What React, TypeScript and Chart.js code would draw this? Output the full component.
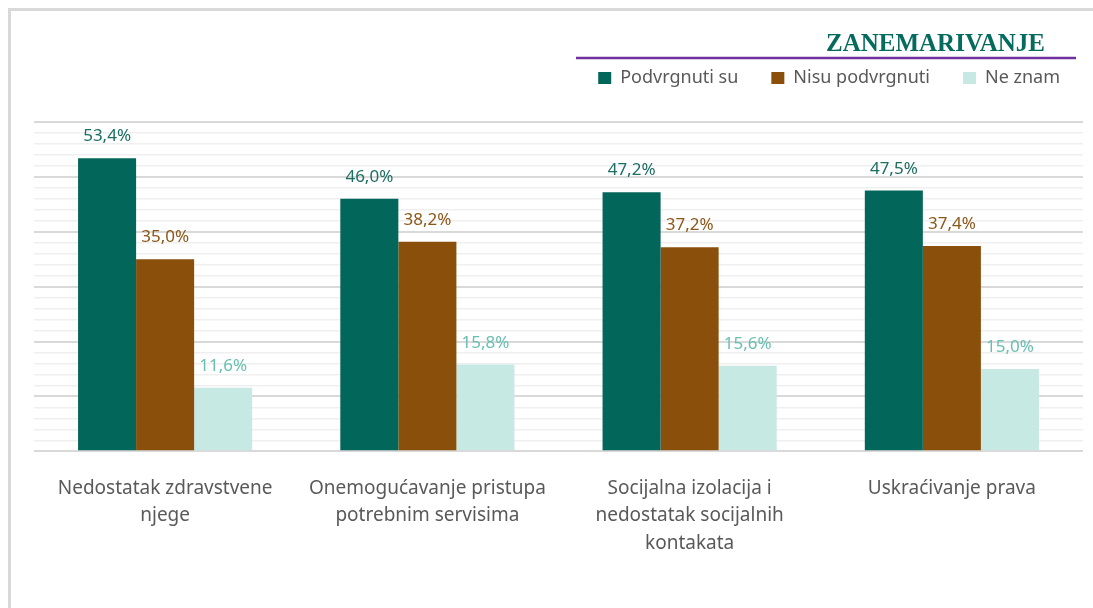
import React, { useEffect, useRef } from "react";
import { Chart, registerables } from "chart.js";

Chart.register(...registerables);

const categories: string[][] = [
  ["Nedostatak zdravstvene", "njege"],
  ["Onemogućavanje pristupa", "potrebnim servisima"],
  ["Socijalna izolacija i", "nedostatak socijalnih", "kontakata"],
  ["Uskraćivanje prava"],
];
const seriesNames = ["Podvrgnuti su", "Nisu podvrgnuti", "Ne znam"];
const podvrgnuti = [53.4, 46.0, 47.2, 47.5];
const nisuPodvrgnuti = [35.0, 38.2, 37.2, 37.4];
const neZnam = [11.6, 15.8, 15.6, 15.0];
const titleText = "ZANEMARIVANJE";

const barColors = ["#03665A", "#8B4F0C", "#C6E9E3"];
const labelColors = ["#1C6E63", "#8C5719", "#68BFB1"];
const FONT = "'Noto Sans', sans-serif";

const fmt = (v: number) => v.toFixed(1).replace(".", ",") + "%";

const headerPlugin = {
  id: "header",
  beforeInit(chart: any) {
    const legend = chart.legend;
    if (legend) {
      const orig = legend.fit;
      legend.fit = function () {
        orig.call(this);
        this.height += 25;
      };
    }
  },
  afterLayout(chart: any) {
    if (chart.legend) {
      chart.legend.right = chart.width;
    }
  },
  beforeDraw(chart: any) {
    const ctx = chart.ctx;
    ctx.save();
    ctx.fillStyle = "#D9D9D9";
    ctx.fillRect(0, 0, chart.width, 3);
    ctx.fillRect(0, 0, 3, chart.height);
    ctx.restore();
  },
  afterDraw(chart: any) {
    const ctx = chart.ctx;
    ctx.save();
    ctx.font = "bold 25px 'Liberation Serif', serif";
    ctx.fillStyle = "#046B5E";
    ctx.textAlign = "right";
    ctx.textBaseline = "alphabetic";
    ctx.fillText(titleText, 1037, 43);
    ctx.strokeStyle = "#7030A0";
    ctx.lineWidth = 2.5;
    ctx.beginPath();
    ctx.moveTo(568, 50);
    ctx.lineTo(1068, 50);
    ctx.stroke();
    ctx.restore();
  },
};

const valueLabelPlugin = {
  id: "valueLabels",
  afterDatasetsDraw(chart: any) {
    const ctx = chart.ctx;
    ctx.save();
    ctx.font = `17px ${FONT}`;
    ctx.textAlign = "center";
    ctx.textBaseline = "alphabetic";
    chart.data.datasets.forEach((ds: any, di: number) => {
      const meta = chart.getDatasetMeta(di);
      ctx.fillStyle = labelColors[di];
      meta.data.forEach((bar: any, i: number) => {
        ctx.fillText(fmt(ds.data[i]), bar.x, bar.y - 17);
      });
    });
    ctx.restore();
  },
};

export default function App() {
  const ref = useRef<HTMLCanvasElement | null>(null);
  useEffect(() => {
    document.documentElement.style.overflow = "hidden";
    document.body.style.overflow = "hidden";
    const chart = new Chart(ref.current as HTMLCanvasElement, {
      type: "bar",
      data: {
        labels: categories,
        datasets: [podvrgnuti, nisuPodvrgnuti, neZnam].map((d, i) => ({
          label: seriesNames[i],
          data: d,
          backgroundColor: barColors[i],
          borderWidth: 0,
          categoryPercentage: 0.664,
          barPercentage: 1,
        })),
      },
      options: {
        responsive: false,
        animation: false,
        layout: { padding: { left: 26, right: 10, top: 28, bottom: 36 } },
        plugins: {
          title: { display: false },
          tooltip: { enabled: false },
          legend: {
            position: "top",
            align: "end",
            labels: {
              boxWidth: 13,
              boxHeight: 12,
              padding: 33,
              color: "#595959",
              font: { family: FONT, size: 18 },
            },
          },
        },
        scales: {
          x: {
            grid: { display: false },
            border: { display: false },
            ticks: {
              color: "#595959",
              font: { family: FONT, size: 19, lineHeight: 1.45 },
              padding: 15,
              maxRotation: 0,
              autoSkip: false,
            },
          },
          y: {
            position: "left",
            min: 0,
            max: 60,
            border: { display: false },
            afterFit: (axis: any) => {
              axis.width = 0;
            },
            ticks: { display: false, stepSize: 2 },
            grid: {
              drawTicks: false,
              color: (c: any) =>
                c.tick && c.tick.value % 10 === 0 ? "#D9D9D9" : "#EFEFEF",
              lineWidth: (c: any) =>
                c.tick && c.tick.value % 10 === 0 ? 2 : 1.5,
            },
          },
        },
      },
      plugins: [headerPlugin, valueLabelPlugin],
    } as any);
    return () => chart.destroy();
  }, []);
  return (
    <div
      style={{
        position: "fixed",
        left: 8,
        top: 8,
        width: 1085,
        height: 600,
        background: "#fff",
      }}
    >
      <canvas ref={ref} width={1085} height={600} style={{ display: "block" }} />
    </div>
  );
}
